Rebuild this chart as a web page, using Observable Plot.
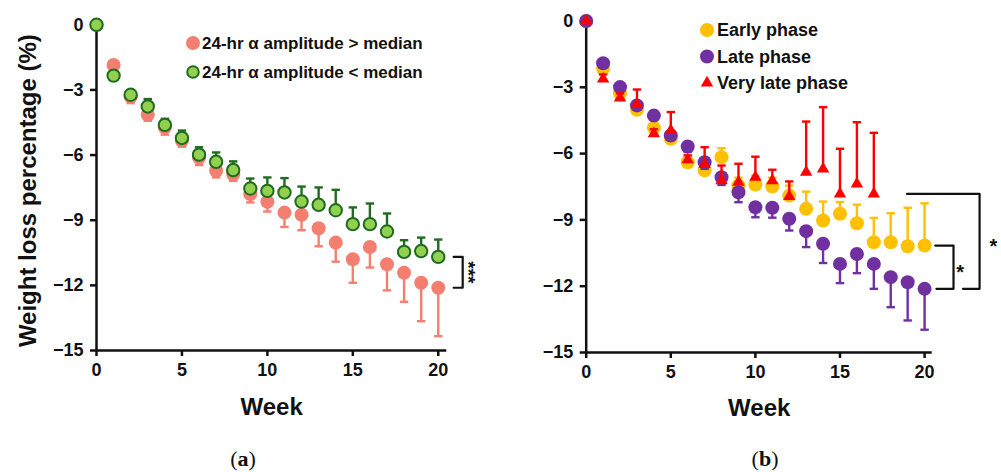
<!DOCTYPE html>
<html>
<head>
<meta charset="utf-8">
<script src="https://cdn.jsdelivr.net/npm/d3@7"></script>
<script src="https://cdn.jsdelivr.net/npm/@observablehq/plot@0.6"></script>
<style>
  html, body { margin: 0; padding: 0; background: #fff; }
  #wrap { position: relative; width: 1001px; height: 472px; overflow: hidden; background: #fff; }
  #left, #right, #overlay { position: absolute; top: 0; }
  #left { left: 0; }
  #right { left: 500px; }
  #overlay { left: 0; pointer-events: none; }
  .cap { position: absolute; font-family: "Liberation Serif", "DejaVu Serif", serif; font-size: 22px; color: #111; transform: translate(-50%, -50%); }
</style>
</head>
<body>
<div id="wrap">
  <div id="left"></div>
  <div id="right"></div>
  <svg id="overlay" width="1001" height="472"></svg>
  <div class="cap" style="left:243px; top:459px;">(<b>a</b>)</div>
  <div class="cap" style="left:765px; top:459px;">(<b>b</b>)</div>
</div>
<script>
// ---------- data ----------
const weeks = [0,1,2,3,4,5,6,7,8,9,10,11,12,13,14,15,16,17,18,19,20];
const xTicks = [0, 5, 10, 15, 20];
const yTicks = [0, -3, -6, -9, -12, -15];

// panel (a)
const highLabel = "24-hr \u03b1 amplitude > median";
const lowLabel = "24-hr \u03b1 amplitude < median";
const highMean = [0, -1.85, -3.31, -4.14, -4.72, -5.34, -6.11, -6.72, -6.88, -7.80, -8.15, -8.65, -8.75, -9.37, -10.03, -10.80, -10.23, -11.03, -11.42, -11.88, -12.11];
const highSE   = [0, 0.15, 0.30, 0.28, 0.34, 0.28, 0.35, 0.31, 0.31, 0.38, 0.45, 0.66, 0.71, 0.83, 0.88, 1.08, 0.95, 1.20, 1.34, 1.77, 2.23];
const lowMean  = [0, -2.34, -3.22, -3.76, -4.61, -5.21, -5.98, -6.31, -6.69, -7.54, -7.65, -7.72, -8.14, -8.29, -8.54, -9.18, -9.18, -9.52, -10.46, -10.42, -10.69];
const lowSE    = [0, 0.15, 0.20, 0.34, 0.28, 0.34, 0.34, 0.43, 0.40, 0.46, 0.62, 0.66, 0.69, 0.80, 0.94, 0.77, 0.95, 0.83, 0.54, 0.62, 0.80];
const starsA = "***";

// panel (b)
const phaseLabels = ["Early phase", "Late phase", "Very late phase"];
const earlyMean = [0, -2.16, -3.27, -4.02, -4.83, -5.33, -6.39, -6.76, -6.16, -7.44, -7.40, -7.49, -7.90, -8.50, -9.03, -8.72, -9.15, -10.01, -10.01, -10.19, -10.16];
const earlySE   = [0, 0.15, 0.20, 0.20, 0.20, 0.20, 0.20, 0.25, 0.40, 0.35, 0.40, 0.40, 0.45, 0.78, 0.86, 0.53, 0.84, 1.10, 1.31, 1.74, 1.91];
const lateMean  = [0, -1.91, -2.99, -3.82, -4.28, -5.18, -5.68, -6.39, -7.07, -7.75, -8.43, -8.45, -8.95, -9.51, -10.08, -10.99, -10.54, -10.99, -11.59, -11.82, -12.12];
const lateSE    = [0, 0.15, 0.20, 0.20, 0.20, 0.20, 0.25, 0.30, 0.35, 0.45, 0.45, 0.45, 0.53, 0.72, 0.87, 0.87, 0.87, 1.13, 1.36, 1.73, 1.85];
const vlateWeeks = [0,1,2,3,4,5,6,7,8,9,10,11,12,13,14,15,16,17];
const vlateMean = [0, -2.62, -3.48, -3.78, -5.10, -4.95, -6.28, -6.49, -7.22, -7.29, -7.07, -7.22, -7.94, -6.84, -6.69, -7.82, -7.37, -7.82];
const vlateSE   = [0, 0.20, 0.20, 0.68, 0.20, 0.83, 0.20, 0.78, 0.68, 0.83, 0.93, 0.49, 0.68, 2.29, 2.79, 2.04, 2.79, 2.76];
const starB = "*";

// ---------- styles ----------
const C = {
  salmon: "#F47F70", greenFill: "#92D050", greenDark: "#1F6B1F",
  yellow: "#FFC000", purple: "#7030A0", red: "#FF0000", ink: "#111"
};
const FONT = "'Liberation Sans', Arial, Helvetica, sans-serif";
const capSymbol = { draw(ctx, size) { const r = Math.sqrt(size / Math.PI); ctx.moveTo(-r, 0); ctx.lineTo(r, 0); } };
const fmt = d => d === 0 ? "0" : "\u2212" + Math.abs(d);

function rows(ws, mean, se, dir) {
  return ws.map((w, i) => ({ week: w, mean: mean[i], tip: mean[i] + dir * se[i], se: se[i] }));
}
function errMarks(data, color) {
  const d = data.filter(r => r.se > 0);
  return [
    Plot.ruleX(d, { x: "week", y1: "mean", y2: "tip", stroke: color, strokeWidth: 2.4 }),
    Plot.dot(d, { x: "week", y: "tip", symbol: capSymbol, r: 4.2, fill: "none", stroke: color, strokeWidth: 2.4 })
  ];
}
function axes() {
  return [
    Plot.axisX({ ticks: xTicks, tickSize: 6, tickPadding: 7, strokeWidth: 2.5, label: null, tickFormat: d => String(d) }),
    Plot.axisY({ ticks: yTicks, tickSize: 6, tickPadding: 7, strokeWidth: 2.5, label: null, tickFormat: fmt }),
    Plot.ruleY([-15], { strokeWidth: 2.5 }),
    Plot.ruleX([0], { y1: -15, y2: 0, strokeWidth: 2.5 })
  ];
}
const baseStyle = { fontFamily: FONT, fontWeight: "bold", fontSize: "18px", color: C.ink, background: "transparent", overflow: "visible" };

// ---------- panel (a) ----------
const hi = rows(weeks, highMean, highSE, -1);
const lo = rows(weeks, lowMean, lowSE, +1);
const last = weeks.length - 1;
const bracketA = [
  { x: 20.9, y: lowMean[last] }, { x: 21.43, y: lowMean[last] },
  { x: 21.43, y: highMean[last] }, { x: 20.9, y: highMean[last] }
];
const left = Plot.plot({
  width: 500, height: 472,
  marginLeft: 96, marginRight: 53.7, marginTop: 24.3, marginBottom: 122,
  x: { domain: [0, 20.5] }, y: { domain: [-15, 0] },
  style: baseStyle,
  marks: [
    ...axes(),
    ...errMarks(hi, C.salmon),
    Plot.dot(hi, { x: "week", y: "mean", r: 7, fill: C.salmon }),
    ...errMarks(lo, C.greenDark),
    Plot.dot(lo, { x: "week", y: "mean", r: 6.2, fill: C.greenFill, stroke: C.greenDark, strokeWidth: 2 }),
    Plot.line(bracketA, { x: "x", y: "y", stroke: "#111", strokeWidth: 2.2 }),
    Plot.text([starsA], { x: 21.77, y: (lowMean[last] + highMean[last]) / 2, rotate: 90, fontSize: 19, fontWeight: "bold", dy: 0 }),
    Plot.text(["Week"], { frameAnchor: "bottom", dy: 57, lineAnchor: "middle", fontSize: 24, fontWeight: "bold" }),
    Plot.text(["Weight loss percentage (%)"], { frameAnchor: "left", textAnchor: "middle", lineAnchor: "middle", rotate: -90, dx: -68, dy: 3, fontSize: 24, fontWeight: "bold" })
  ]
});
document.getElementById("left").append(left);

// ---------- panel (b) ----------
const ea = rows(weeks, earlyMean, earlySE, +1);
const la = rows(weeks, lateMean, lateSE, -1);
const vl = rows(vlateWeeks, vlateMean, vlateSE, +1);
const vlast = vlateWeeks.length - 1;
const bracketInner = [
  { x: 20.63, y: earlyMean[last] }, { x: 21.71, y: earlyMean[last] },
  { x: 21.71, y: lateMean[last] }, { x: 20.7, y: lateMean[last] }
];
const bracketOuter = [
  { x: 18.96, y: vlateMean[vlast] }, { x: 23.25, y: vlateMean[vlast] },
  { x: 23.25, y: lateMean[last] }, { x: 22.27, y: lateMean[last] }
];
const right = Plot.plot({
  width: 501, height: 472,
  marginLeft: 85.7, marginRight: 69.3, marginTop: 20.5, marginBottom: 120,
  x: { domain: [0, 20.45] }, y: { domain: [-15, 0] },
  style: baseStyle,
  marks: [
    ...axes(),
    ...errMarks(ea, C.yellow),
    Plot.dot(ea, { x: "week", y: "mean", r: 7, fill: C.yellow }),
    ...errMarks(la, C.purple),
    Plot.dot(la, { x: "week", y: "mean", r: 7, fill: C.purple }),
    ...errMarks(vl, C.red),
    Plot.dot(vl, { x: "week", y: "mean", r: 4.6, symbol: "triangle", fill: C.red }),
    Plot.line(bracketInner, { x: "x", y: "y", stroke: "#111", strokeWidth: 2.2 }),
    Plot.line(bracketOuter, { x: "x", y: "y", stroke: "#111", strokeWidth: 2.2 }),
    Plot.text([starB], { x: 22.1, y: (earlyMean[last] + lateMean[last]) / 2, fontSize: 20, fontWeight: "bold", dy: 5 }),
    Plot.text([starB], { x: 24.07, y: (vlateMean[vlast] + lateMean[last]) / 2, fontSize: 20, fontWeight: "bold", dy: 5 }),
    Plot.text(["Week"], { frameAnchor: "bottom", dy: 56, lineAnchor: "middle", fontSize: 24, fontWeight: "bold" })
  ]
});
document.getElementById("right").append(right);

// ---------- legends (overlay) ----------
const ov = d3.select("#overlay");
const legA = [
  { label: highLabel, fill: C.salmon, stroke: "none", r: 7, sw: 0 },
  { label: lowLabel, fill: C.greenFill, stroke: C.greenDark, r: 5.8, sw: 2 }
];
legA.forEach((d, i) => {
  const y = 43 + i * 29;
  ov.append("circle").attr("cx", 193).attr("cy", y).attr("r", d.r).attr("fill", d.fill).attr("stroke", d.stroke).attr("stroke-width", d.sw);
  ov.append("text").attr("x", 202).attr("y", y).attr("dy", "0.36em").attr("font-family", FONT).attr("font-weight", "bold").attr("font-size", 17).attr("fill", C.ink).text(d.label);
});
const legB = [
  { label: phaseLabels[0], fill: C.yellow, sym: d3.symbolCircle, size: Math.PI * 49 },
  { label: phaseLabels[1], fill: C.purple, sym: d3.symbolCircle, size: Math.PI * 49 },
  { label: phaseLabels[2], fill: C.red, sym: d3.symbolTriangle, size: Math.PI * 4.6 * 4.6 }
];
legB.forEach((d, i) => {
  const y = 30 + i * 26.5;
  ov.append("path").attr("transform", `translate(707,${y})`).attr("d", d3.symbol(d.sym, d.size)()).attr("fill", d.fill);
  ov.append("text").attr("x", 717).attr("y", y).attr("dy", "0.36em").attr("font-family", FONT).attr("font-weight", "bold").attr("font-size", 18).attr("fill", C.ink).text(d.label);
});
</script>
</body>
</html>
